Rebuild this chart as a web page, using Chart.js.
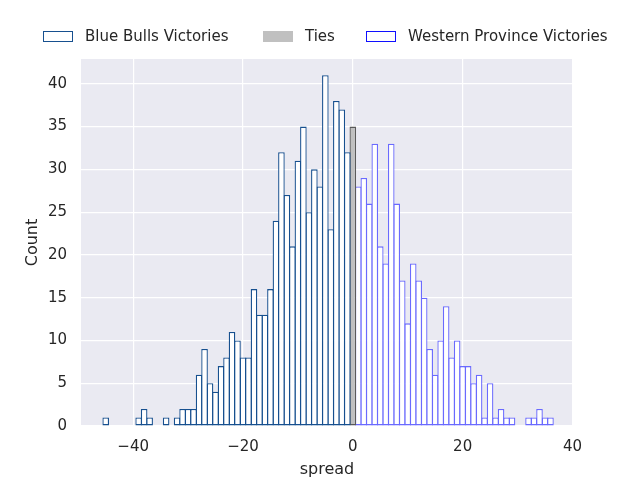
<!DOCTYPE html>
<html>
<head>
<meta charset="utf-8">
<script src="https://cdn.jsdelivr.net/npm/chart.js@4.4.0/dist/chart.umd.min.js"></script>
<style>
  body { margin: 0; background: #fff; }
  #wrap { position: relative; width: 640px; height: 480px; font-family: "DejaVu Sans", sans-serif; }
  .item { position: absolute; top: 26px; height: 20px; display: flex; align-items: center;
          font-size: 15px; color: #262626; white-space: nowrap; }
  .swatch { width: 30px; height: 11px; box-sizing: border-box; margin-right: 12px; }
</style>
</head>
<body>
<div id="wrap">
  <canvas id="myChart" width="640" height="480"></canvas>
  <div class="item" style="left:43px"><span class="swatch" style="border:1.5px solid #17508f;background:#fff"></span>Blue Bulls Victories</div>
  <div class="item" style="left:263px"><span class="swatch" style="background:#c0c0c0"></span>Ties</div>
  <div class="item" style="left:366px"><span class="swatch" style="border:1.5px solid #1010ff;background:#fff"></span>Western Province Victories</div>
</div>
<script>
// points spread (x) per outcome, counts
var blueBullsSpread = [-45, -44, -43, -42, -41, -40, -39, -38, -37, -36, -35, -34, -33, -32, -31,
  -30, -29, -28, -27, -26, -25, -24, -23, -22, -21, -20, -19, -18, -17, -16, -15, -14, -13, -12,
  -11, -10, -9, -8, -7, -6, -5, -4, -3, -2, -1];
var blueBullsCount = [1, 0, 0, 0, 0, 0, 1, 2, 1, 0, 0, 1, 0, 1, 2,
  2, 2, 6, 9, 5, 4, 7, 8, 11, 10, 8, 8, 16, 13, 13, 16, 24, 32, 27,
  21, 31, 35, 25, 30, 28, 41, 23, 38, 37, 32];

var tieSpread = [0];
var tieCount = [35];

var westernProvinceSpread = [1, 2, 3, 4, 5, 6, 7, 8, 9, 10, 11, 12, 13, 14, 15, 16, 17, 18,
  19, 20, 21, 22, 23, 24, 25, 26, 27, 28, 29, 30, 31, 32, 33, 34, 35, 36];
var westernProvinceCount = [28, 29, 26, 33, 21, 19, 33, 26, 17, 12, 19, 17, 15, 9, 6, 10, 14, 8,
  10, 7, 7, 5, 6, 1, 5, 1, 2, 1, 1, 0, 0, 1, 1, 2, 1, 1];

var xTicks = [-40, -20, 0, 20, 40];
var yTicks = [0, 5, 10, 15, 20, 25, 30, 35, 40];

function points(xs, ys) {
  return xs.map(function (x, i) { return { x: x, y: ys[i] }; });
}

function fmt(v) {
  return v < 0 ? '\u2212' + Math.abs(v) : String(v);
}

// seaborn-like grey plot background
var background = {
  id: 'background',
  beforeDraw: function (chart) {
    var c = chart.ctx, a = chart.chartArea;
    c.save();
    c.fillStyle = '#ffffff';
    c.fillRect(0, 0, chart.width, chart.height);
    c.fillStyle = '#eaeaf2';
    c.fillRect(a.left, a.top, a.right - a.left, a.bottom - a.top);
    c.restore();
  }
};

Chart.defaults.font.family = '"DejaVu Sans", sans-serif';
Chart.defaults.color = '#262626';

var barStyle = {
  borderWidth: 1.3,
  borderSkipped: false,
  grouped: false,
  barPercentage: 1.2,
  categoryPercentage: 1
};

var ctx = document.getElementById('myChart').getContext('2d');
var chart = new Chart(ctx, {
  type: 'bar',
  data: {
    datasets: [
      Object.assign({
        label: 'Blue Bulls Victories',
        data: points(blueBullsSpread, blueBullsCount),
        backgroundColor: '#ffffff',
        borderColor: '#17508f'
      }, barStyle),
      Object.assign({
        label: 'Ties',
        data: points(tieSpread, tieCount),
        backgroundColor: '#c0c0c0',
        borderColor: '#5a5a5a'
      }, barStyle),
      Object.assign({
        label: 'Western Province Victories',
        data: points(westernProvinceSpread, westernProvinceCount),
        backgroundColor: '#ffffff',
        borderColor: '#6a6aff'
      }, barStyle)
    ]
  },
  options: {
    responsive: false,
    animation: false,
    layout: { padding: { top: 59, right: 67, bottom: 0, left: 0 } },
    plugins: {
      legend: { display: false },
      tooltip: { enabled: false }
    },
    scales: {
      x: {
        type: 'linear',
        offset: false,
        min: -49.5,
        max: 40.1,
        afterBuildTicks: function (s) { s.ticks = xTicks.map(function (v) { return { value: v }; }); },
        afterFit: function (s) { s.height = 54; },
        grid: { color: '#ffffff', lineWidth: 1.2, drawTicks: false, offset: false },
        border: { display: false },
        ticks: { padding: 12, maxRotation: 0, font: { size: 15 }, callback: function (v) { return fmt(v); } },
        title: { display: true, text: 'spread', font: { size: 16 }, padding: { top: 0, bottom: 1 } }
      },
      y: {
        min: 0,
        max: 42.9,
        afterBuildTicks: function (s) { s.ticks = yTicks.map(function (v) { return { value: v }; }); },
        afterFit: function (s) { s.width = 81; },
        grid: { color: '#ffffff', lineWidth: 1.2, drawTicks: false },
        border: { display: false },
        ticks: { padding: 14, font: { size: 15 }, callback: function (v) { return fmt(v); } },
        title: { display: true, text: 'Count', font: { size: 16 }, padding: { top: 23, bottom: 0 } }
      }
    }
  },
  plugins: [background]
});
</script>
</body>
</html>
